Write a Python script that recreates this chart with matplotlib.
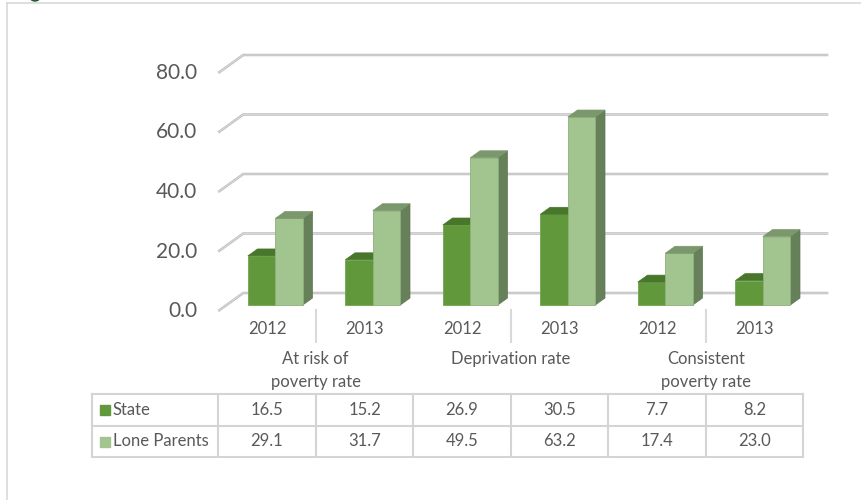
import numpy as np
import matplotlib
matplotlib.use("Agg")
import matplotlib.pyplot as plt
from matplotlib.patches import Polygon, Rectangle, Ellipse
from matplotlib.lines import Line2D

# DATA
years = ["2012", "2013", "2012", "2013", "2012", "2013"]
groups = ["At risk of\npoverty rate", "Deprivation rate", "Consistent\npoverty rate"]
series_names = ["State", "Lone Parents"]
state = [16.5, 15.2, 26.9, 30.5, 7.7, 8.2]
lone_parents = [29.1, 31.7, 49.5, 63.2, 17.4, 23.0]
y_ticks = [0, 20, 40, 60, 80]

# STYLE
FONT = "Lato"
TXT = "#595959"
GRID = "#bdbdbd"
front_cols = ["#62983c", "#a2c48e"]
top_cols = ["#48762a", "#7a986c"]
side_cols = ["#3f6a25", "#66805a"]
edge_cols = ["#6fa74a", "#8fb07c"]

W, H = 862, 500
fig = plt.figure(figsize=(W / 100, H / 100), dpi=100)

# pixel layout of the plot: category spacing, value scale, depth offsets
X0_PX, DX_PX = 267.0, 97.5          # category 0 centre, category step
Y0_PX, VY_PX = 311.0, 2.975         # value 0 at front, pixels per unit
DEPTH_X, DEPTH_Y = 25.0, 18.0       # wall depth in pixels

ax = fig.add_axes([0, 0, 1, 1])
ax.set_xlim(-X0_PX / DX_PX, (W - X0_PX) / DX_PX)
ax.set_ylim(-(H - Y0_PX) / VY_PX, Y0_PX / VY_PX)
ax.axis("off")

DX = DEPTH_X / DX_PX   # depth offset in category units
DY = DEPTH_Y / VY_PX   # depth offset in value units


def pf(x, y):
    """pixel (from top-left) -> figure fraction"""
    return x / W, 1 - y / H


# outer frame of the chart area
fig.add_artist(Line2D([7.5 / W, 7.5 / W], [0, 1 - 3 / H], color="#d9d9d9", lw=1.2))
fig.add_artist(Line2D([7.5 / W, 1], [1 - 3 / H, 1 - 3 / H], color="#d9d9d9", lw=1.2))
fig.add_artist(Ellipse(pf(35, -3), 10 / W, 8 / H, color="#1e5b32", transform=fig.transFigure))

# back wall gridlines with diagonal floor ticks
n = len(years)
xl, xr = -0.5, n - 0.5
for v in y_ticks:
    ax.plot([xl, xl + DX, xr + DX], [v, v + DY, v + DY], color=GRID, lw=1.8,
            solid_capstyle="butt", zorder=1)
    ax.plot([xl, xl + DX, xr + DX], [v, v + DY, v + DY], color="#dedede", lw=0.6,
            solid_capstyle="butt", zorder=1)
    ax.text(xl - 21 / DX_PX, v, f"{v:.1f}", ha="right", va="center",
            fontsize=15, color=TXT, family=FONT)

# 3D-look bars
d0, d1 = 0.333, 0.72
bw = 27.5 / DX_PX
ddx, ddy = DX * (d1 - d0), DY * (d1 - d0)
for i in range(n):
    cx = i + DX * d0
    base = DY * d0
    for s, vals in enumerate([state, lone_parents]):
        v = vals[i]
        left = cx - bw if s == 0 else cx
        right = left + bw
        top = base + v
        side = Polygon([(right, base), (right, top), (right + ddx, top + ddy),
                        (right + ddx, base + ddy)], closed=True,
                       facecolor=side_cols[s], edgecolor="#5d7652", lw=0.5, zorder=3 + s)
        face = Rectangle((left, base), bw, v, facecolor=front_cols[s],
                         edgecolor=edge_cols[s], lw=0.6, zorder=3 + s)
        lid = Polygon([(left, top), (right, top), (right + ddx, top + ddy),
                       (left + ddx, top + ddy)], closed=True,
                      facecolor=top_cols[s], edgecolor=top_cols[s], lw=0.5, zorder=3 + s)
        for p in (side, face, lid):
            ax.add_patch(p)

# category axis: year labels, group separators, group labels
LBL = 12
for i, yr in enumerate(years):
    fig.text(*pf(X0_PX + DX_PX * i, 329), yr, ha="center", va="center",
             fontsize=LBL, color=TXT, family=FONT)
for g, name in enumerate(groups):
    gx = X0_PX + DX_PX * (2 * g + 0.5)
    fig.add_artist(Line2D([gx / W, gx / W], [1 - 310 / H, 1 - 342 / H],
                          color="#d9d9d9", lw=1.5))
    for k, line in enumerate(name.split("\n")):
        fig.text(*pf(gx, 359 + 23 * k), line, ha="center", va="center",
                 fontsize=LBL, color=TXT, family=FONT)

# data table
tab_left = 92
col_edges = [tab_left] + [X0_PX + DX_PX * (i + 0.5) for i in range(-1, n)]
row_edges = [394, 426, 457]
for x in col_edges:
    fig.add_artist(Line2D([x / W, x / W], [1 - row_edges[0] / H, 1 - row_edges[-1] / H],
                          color="#d4d4d4", lw=1.5))
for y in row_edges:
    fig.add_artist(Line2D([tab_left / W, col_edges[-1] / W], [1 - y / H, 1 - y / H],
                          color="#d4d4d4", lw=1.5))
for r, (name, vals) in enumerate(zip(series_names, [state, lone_parents])):
    yc = (row_edges[r] + row_edges[r + 1]) / 2
    fig.add_artist(Rectangle(pf(100, yc + 5), 10 / W, 10 / H, color=front_cols[r],
                             transform=fig.transFigure))
    fig.text(*pf(113, yc), name, ha="left", va="center", fontsize=LBL,
             color=TXT, family=FONT)
    for i, v in enumerate(vals):
        fig.text(*pf(X0_PX + DX_PX * i, yc), f"{v:.1f}", ha="center", va="center",
                 fontsize=LBL, color=TXT, family=FONT)

fig.savefig("out.png", dpi=100)
